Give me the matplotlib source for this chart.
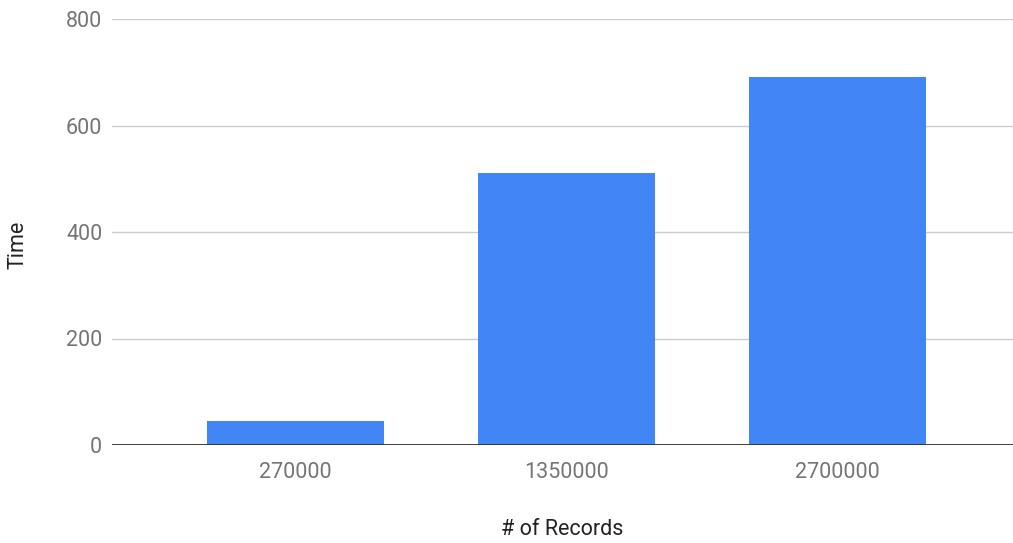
import matplotlib.pyplot as plt
import numpy as np

# datos
registros = ['270000', '1350000', '2700000']
tiempos = [45, 511, 692]
ticks_y = [0, 200, 400, 600, 800]

plt.rcParams['font.family'] = ['Roboto', 'DejaVu Sans']

fig = plt.figure(figsize=(10.13, 5.43), dpi=100)
ax = fig.add_axes([112 / 1013, 98 / 543, 901 / 1013, 426 / 543])

x = np.arange(len(registros))
ax.bar(x, tiempos, width=0.653, color='#4285F4', zorder=3)

ax.set_xlim(-0.677, 2.648)
ax.set_ylim(0, 800)
ax.set_yticks(ticks_y)
ax.set_xticks(x)
ax.set_xticklabels(registros)

ax.grid(axis='y', color='#cccccc', linewidth=1, zorder=0)
ax.axhline(0, color='#333333', linewidth=1.3, zorder=4)

for s in ax.spines.values():
    s.set_visible(False)
ax.tick_params(axis='both', length=0, labelsize=15.5, labelcolor='#757575')
ax.tick_params(axis='y', pad=7)
ax.tick_params(axis='x', pad=12)

ax.set_xlabel('# of Records', fontsize=15.5, color='#222222', labelpad=26)
ax.set_ylabel('Time', fontsize=15.5, color='#222222')
ax.yaxis.set_label_coords(-0.093, 0.47)

fig.savefig('out.png', dpi=100)
